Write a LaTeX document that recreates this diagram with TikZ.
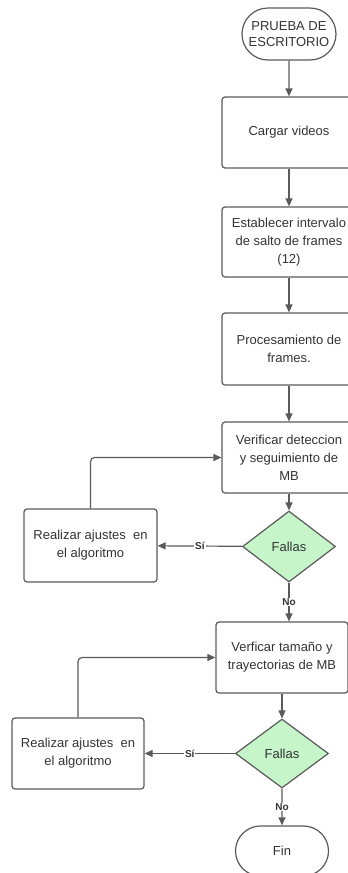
\documentclass[tikz,border=0pt]{standalone}
\usepackage{fontspec}
\setmainfont{Liberation Sans}
\usetikzlibrary{arrows.meta,shapes.geometric,shapes.misc}

\definecolor{flowgray}{HTML}{5A5A5A}
\definecolor{flowtext}{HTML}{333333}
\definecolor{flowgreen}{HTML}{C6F5C9}

\begin{document}
\begin{tikzpicture}[x=1pt,y=-1pt]
  \tikzset{flowbox/.style={rectangle,rounded corners=3pt,draw=flowgray,line width=1.2pt,text=flowtext,align=center,font=\fontsize{13}{18}\selectfont,inner sep=2pt}}
  \tikzset{flowterm/.style={rounded rectangle,draw=flowgray,line width=1.2pt,text=flowtext,align=center,font=\fontsize{13}{16}\selectfont,inner sep=2pt}}
  \tikzset{flowdecision/.style={diamond,draw=flowgray,fill=flowgreen,line width=1.2pt,text=flowtext,font=\fontsize{13}{16}\selectfont,inner sep=0pt,minimum width=93pt,minimum height=71pt}}
  \tikzset{flowarrow/.style={draw=flowgray,line width=1.2pt,-{Triangle[length=8pt,width=7pt]}}}
  \tikzset{flowlabel/.style={fill=white,text=flowtext,font=\fontsize{10}{11}\selectfont\bfseries,inner sep=1pt}}

  \clip (0,0) rectangle (348,873);

  \node[flowterm,minimum width=98pt,minimum height=52pt] (start) at (289, 34) {PRUEBA DE\\ESCRITORIO};
  \node[flowbox,minimum width=134pt,minimum height=71pt] (cargar) at (289, 132.5) {Cargar videos};
  \node[flowbox,minimum width=134pt,minimum height=70pt] (intervalo) at (289, 242) {Establecer intervalo\\de salto de frames\\(12)};
  \node[flowbox,minimum width=134pt,minimum height=72pt] (proceso) at (289, 349) {Procesamiento de\\frames.};
  \node[flowbox,minimum width=134pt,minimum height=71pt] (verdet) at (289, 457.5) {Verificar deteccion\\y seguimiento de\\MB};
  \node[flowdecision] (fallas1) at (289, 546.5) {Fallas};
  \node[flowbox,minimum width=133pt,minimum height=73pt] (ajuste1) at (90.5, 545.5) {Realizar ajustes\ \ en\\el algoritmo};
  \node[flowbox,minimum width=132pt,minimum height=71pt] (vertam) at (282, 657.5) {Verficar tamaño y\\trayectorias de MB};
  \node[flowdecision,minimum height=69pt] (fallas2) at (282, 753.5) {Fallas};
  \node[flowbox,minimum width=132pt,minimum height=71pt] (ajuste2) at (78, 753.5) {Realizar ajustes\ \ en\\el algoritmo};
  \node[flowterm,minimum width=97pt,minimum height=50pt] (fin) at (282, 851) {Fin};

  \draw[flowarrow] (start) -- (cargar);
  \draw[flowarrow] (cargar) -- (intervalo);
  \draw[flowarrow] (intervalo) -- (proceso);
  \draw[flowarrow] (proceso) -- (verdet);
  \draw[flowarrow] (verdet) -- (fallas1);
  \draw[flowarrow] (fallas1) -- node[flowlabel] {Sí} (ajuste1);
  \draw[flowarrow,rounded corners=4pt] (ajuste1.north) |- (verdet.west);
  \draw[flowarrow] (fallas1.south) -- node[flowlabel] {No} (fallas1.south |- vertam.north);

  \draw[flowarrow] (vertam) -- (fallas2);
  \draw[flowarrow] (fallas2) -- node[flowlabel] {Sí} (ajuste2);
  \draw[flowarrow,rounded corners=4pt] (ajuste2.north) |- (vertam.west);
  \draw[flowarrow] (fallas2) -- node[flowlabel] {No} (fin);
\end{tikzpicture}
\end{document}
